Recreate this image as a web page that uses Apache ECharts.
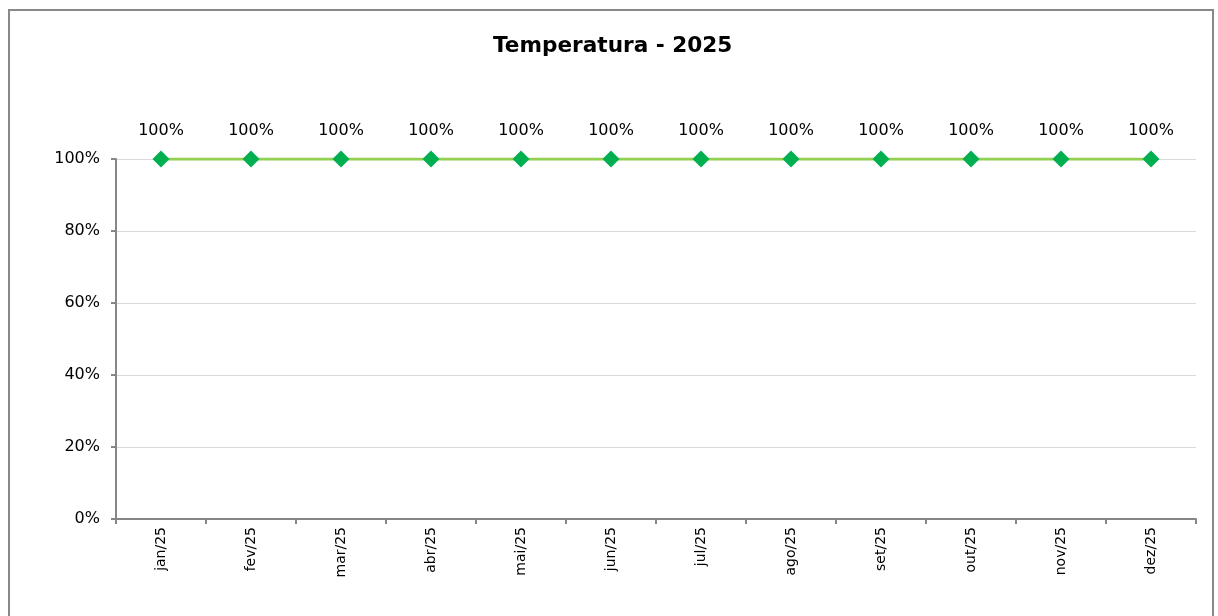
<!DOCTYPE html>
<html>
<head>
<meta charset="utf-8">
<script src="https://cdn.jsdelivr.net/npm/echarts@6/dist/echarts.min.js"></script>
<style>
  html, body { margin: 0; padding: 0; background: #fff; }
  #chart { width: 1218px; height: 616px; }
</style>
</head>
<body>
<div id="chart"></div>
<script>
  const months = ['jan/25', 'fev/25', 'mar/25', 'abr/25', 'mai/25', 'jun/25',
    'jul/25', 'ago/25', 'set/25', 'out/25', 'nov/25', 'dez/25']
  const temperatura = [100, 100, 100, 100, 100, 100, 100, 100, 100, 100, 100, 100]
  const yTicks = [0, 20, 40, 60, 80, 100]

  const font = 'Verdana, "DejaVu Sans", sans-serif'
  const chart = echarts.init(document.getElementById('chart'))

  chart.setOption({
    animation: false,
    textStyle: { fontFamily: font },
    title: {
      text: 'Temperatura - 2025',
      left: 488,
      top: 30,
      textStyle: { fontFamily: font, fontSize: 21.6, fontWeight: 'bold', color: '#000' }
    },
    graphic: [{
      type: 'rect',
      shape: { x: 9, y: 10, width: 1204, height: 640 },
      style: { fill: 'none', stroke: '#888', lineWidth: 2 },
      silent: true
    }],
    grid: { left: 116, right: 22, top: 159, bottom: 97, containLabel: false },
    xAxis: {
      type: 'category',
      data: months,
      boundaryGap: true,
      axisLine: { lineStyle: { color: '#868686', width: 2 } },
      axisTick: { show: true, length: 5, lineStyle: { color: '#868686', width: 2 } },
      axisLabel: { rotate: 90, fontSize: 14, color: '#000', margin: 8, fontFamily: font }
    },
    yAxis: {
      type: 'value',
      min: yTicks[0],
      max: yTicks[yTicks.length - 1],
      interval: 20,
      axisLine: { show: true, lineStyle: { color: '#868686', width: 2 } },
      axisTick: { show: true, length: 5, lineStyle: { color: '#868686', width: 2 } },
      axisLabel: { fontSize: 16, color: '#000', margin: 16, formatter: '{value}%', fontFamily: font },
      splitLine: { show: true, lineStyle: { color: '#d9d9d9', width: 1 } }
    },
    series: [{
      name: 'Temperatura',
      type: 'line',
      data: temperatura,
      symbol: 'diamond',
      symbolSize: 17,
      lineStyle: { color: '#92D050', width: 3 },
      itemStyle: { color: '#00B050' },
      label: {
        show: true,
        position: 'top',
        distance: 12,
        formatter: '{c}%',
        fontSize: 16,
        color: '#000',
        fontFamily: font
      }
    }]
  })
</script>
</body>
</html>
